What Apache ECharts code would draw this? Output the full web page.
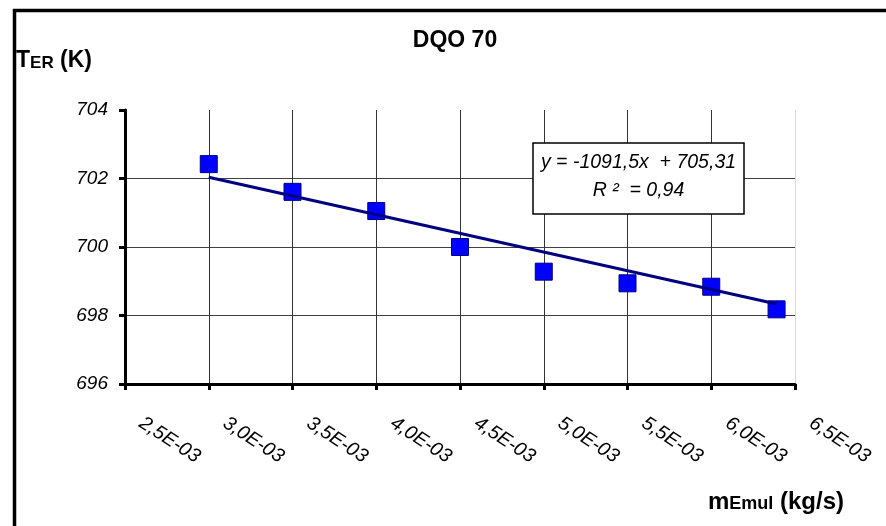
<!DOCTYPE html>
<html>
<head>
<meta charset="utf-8">
<title>DQO 70</title>
<script src="https://cdn.jsdelivr.net/npm/echarts@6/dist/echarts.min.js"></script>
<style>
  html, body { margin: 0; padding: 0; background: #fff; }
  #chart { width: 886px; height: 526px; }
</style>
</head>
<body>
<div id="chart"></div>
<script>
// Emulsion mass flow (kg/s) and measured temperature TER (K)
const massFlow = [0.0030, 0.0035, 0.0040, 0.0045, 0.0050, 0.0055, 0.0060, 0.00639];
const temperature = [702.42, 701.61, 701.05, 700.00, 699.28, 698.94, 698.84, 698.18];

// Linear trend as printed on the chart: y = slope * x + intercept
const trendSlope = -1091.5;
const trendIntercept = 705.31;
const trendR2Text = '0,94';

// Axis ranges and tick labels
const xMin = 0.0025, xMax = 0.0065, xStep = 0.0005;
const xTickLabels = ['2,5E-03', '3,0E-03', '3,5E-03', '4,0E-03', '4,5E-03',
                     '5,0E-03', '5,5E-03', '6,0E-03', '6,5E-03'];
const yMin = 696, yMax = 704, yStep = 2;
const yTickLabels = ['696', '698', '700', '702', '704'];

const points = massFlow.map((x, i) => [x, temperature[i]]);
const xFirst = massFlow[0], xLast = massFlow[massFlow.length - 1];
const trendPoints = [
  [xFirst, trendSlope * xFirst + trendIntercept],
  [xLast, trendSlope * xLast + trendIntercept]
];

const FONT = 'Liberation Sans, Arial, Helvetica, sans-serif';
const chart = echarts.init(document.getElementById('chart'), null, { renderer: 'canvas' });

// small-caps style axis titles: large initial, smaller raised-to-baseline remainder
const capsRich = (big, small) => ({
  big: { font: 'bold ' + big + 'px ' + FONT, fill: '#000', verticalAlign: 'bottom' },
  small: { font: 'bold ' + small + 'px ' + FONT, fill: '#000', verticalAlign: 'bottom',
           padding: [0, 0, Math.round((big - small) * 0.22), 0] }
});

chart.setOption({
  backgroundColor: '#fff',
  animation: false,
  grid: { left: 125, right: 91, top: 110, bottom: 142, containLabel: false },
  xAxis: {
    type: 'value',
    min: xMin, max: xMax, interval: xStep,
    axisLine: { show: true, onZero: false, lineStyle: { color: '#000', width: 3 } },
    axisTick: { show: true, length: 6, lineStyle: { color: '#000', width: 3 } },
    axisLabel: {
      rotate: -33,
      margin: 27,
      padding: [0, 0, 0, 19],
      fontFamily: FONT, fontSize: 19.5, fontStyle: 'italic', color: '#000',
      formatter: v => xTickLabels[Math.round((v - xMin) / xStep)]
    },
    splitLine: {
      show: true, showMinLine: false, showMaxLine: true,
      lineStyle: { width: 1, color: ['#333', '#333', '#333', '#333', '#333', '#333', '#333', '#d9d9d9'] }
    }
  },
  yAxis: {
    type: 'value',
    min: yMin, max: yMax, interval: yStep,
    axisLine: { show: true, onZero: false, lineStyle: { color: '#000', width: 3 } },
    axisTick: { show: true, length: 6, lineStyle: { color: '#000', width: 3 } },
    axisLabel: {
      margin: 17,
      fontFamily: FONT, fontSize: 19, fontStyle: 'italic', color: '#000',
      formatter: v => yTickLabels[Math.round((v - yMin) / yStep)]
    },
    splitLine: {
      show: true, showMinLine: false, showMaxLine: false,
      lineStyle: { width: 1, color: '#404040' }
    }
  },
  series: [
    {
      name: 'TER',
      type: 'scatter',
      data: points,
      symbol: 'rect',
      symbolSize: 17,
      itemStyle: { color: '#0000ff', borderColor: '#000080', borderWidth: 1, opacity: 1 },
      z: 3
    },
    {
      name: 'Trend',
      type: 'line',
      data: trendPoints,
      showSymbol: false,
      symbol: 'none',
      lineStyle: { color: '#000080', width: 3 },
      z: 4
    }
  ],
  graphic: [
    // outer frame (top and left edges visible)
    {
      type: 'rect', left: 12, top: 8, z: 10,
      shape: { x: 0, y: 0, width: 1000, height: 1000 },
      style: { fill: 'none', stroke: '#000', lineWidth: 3.5 },
      silent: true
    },
    {
      type: 'text', z: 10,
      style: {
        x: 455, y: 41, text: 'DQO 70', textAlign: 'center', textVerticalAlign: 'middle',
        font: 'bold 23px ' + FONT, fill: '#000'
      }
    },
    {
      type: 'text', z: 10,
      style: {
        x: 16, y: 61, textVerticalAlign: 'middle',
        text: '{big|T}{small|ER}{big| (K)}',
        rich: capsRich(23, 17)
      }
    },
    {
      type: 'text', z: 10,
      style: {
        x: 708, y: 502, textVerticalAlign: 'middle',
        text: '{big|m}{small|Emul}{big| (kg/s)}',
        rich: capsRich(24, 18)
      }
    },
    // trend equation box
    {
      type: 'rect', z: 10,
      shape: { x: 533, y: 143, width: 211, height: 71 },
      style: { fill: '#fff', stroke: '#000', lineWidth: 1.5 }
    },
    {
      type: 'text', z: 11,
      style: {
        x: 638.5, y: 163, textAlign: 'center', textVerticalAlign: 'middle',
        text: 'y = ' + String(trendSlope).replace('.', ',') + 'x  + ' + String(trendIntercept).replace('.', ','),
        font: 'italic 19.5px ' + FONT, fill: '#000'
      }
    },
    {
      type: 'text', z: 11,
      style: {
        x: 638.5, y: 191, textAlign: 'center', textVerticalAlign: 'middle',
        text: 'R \u00B2  = ' + trendR2Text,
        font: 'italic 19.5px ' + FONT, fill: '#000'
      }
    }
  ]
});
</script>
</body>
</html>
